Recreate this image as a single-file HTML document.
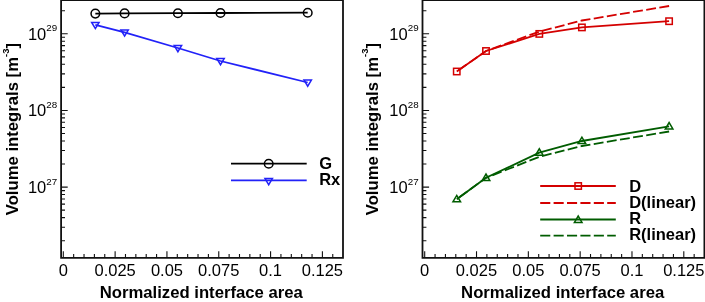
<!DOCTYPE html>
<html><head><meta charset="utf-8"><style>
html,body{margin:0;padding:0;background:#fff;width:705px;height:302px;overflow:hidden}
svg{display:block;will-change:transform}
text{font-family:"Liberation Sans", sans-serif;fill:#000}
</style></head><body>
<svg width="705" height="302" viewBox="0 0 705 302">
<path d="M61.1 0.2 H343.0 V257.8 H61.1 Z" fill="none" stroke="#111" stroke-width="1.8"/>
<path d="M63.30 257.8 V251.20 M73.66 257.8 V253.90 M84.03 257.8 V253.90 M94.39 257.8 V253.90 M104.76 257.8 V253.90 M115.12 257.8 V251.20 M125.48 257.8 V253.90 M135.85 257.8 V253.90 M146.21 257.8 V253.90 M156.58 257.8 V253.90 M166.94 257.8 V251.20 M177.30 257.8 V253.90 M187.67 257.8 V253.90 M198.03 257.8 V253.90 M208.40 257.8 V253.90 M218.76 257.8 V251.20 M229.12 257.8 V253.90 M239.49 257.8 V253.90 M249.85 257.8 V253.90 M260.22 257.8 V253.90 M270.58 257.8 V251.20 M280.94 257.8 V253.90 M291.31 257.8 V253.90 M301.67 257.8 V253.90 M312.04 257.8 V253.90 M322.40 257.8 V251.20 M332.76 257.8 V253.90" stroke="#111" stroke-width="1.1" fill="none"/>
<text x="63.30" y="276.4" text-anchor="middle" font-size="16.5">0</text>
<text x="115.12" y="276.4" text-anchor="middle" font-size="16.5">0.025</text>
<text x="166.94" y="276.4" text-anchor="middle" font-size="16.5">0.05</text>
<text x="218.76" y="276.4" text-anchor="middle" font-size="16.5">0.075</text>
<text x="270.58" y="276.4" text-anchor="middle" font-size="16.5">0.1</text>
<text x="322.40" y="276.4" text-anchor="middle" font-size="16.5">0.125</text>
<path d="M61.1 33.80 H67.70 M61.1 10.73 H65.00 M61.1 110.45 H67.70 M61.1 87.38 H65.00 M61.1 73.88 H65.00 M61.1 64.30 H65.00 M61.1 56.87 H65.00 M61.1 50.80 H65.00 M61.1 45.67 H65.00 M61.1 41.23 H65.00 M61.1 37.31 H65.00 M61.1 187.10 H67.70 M61.1 164.03 H65.00 M61.1 150.53 H65.00 M61.1 140.95 H65.00 M61.1 133.52 H65.00 M61.1 127.45 H65.00 M61.1 122.32 H65.00 M61.1 117.88 H65.00 M61.1 113.96 H65.00 M61.1 240.68 H65.00 M61.1 227.18 H65.00 M61.1 217.60 H65.00 M61.1 210.17 H65.00 M61.1 204.10 H65.00 M61.1 198.97 H65.00 M61.1 194.53 H65.00 M61.1 190.61 H65.00" stroke="#111" stroke-width="1.1" fill="none"/>
<text x="46.30" y="39.60" text-anchor="end" font-size="16.5">10</text>
<text x="46.30" y="31.20" font-size="9.8">29</text>
<text x="46.30" y="116.30" text-anchor="end" font-size="16.5">10</text>
<text x="46.30" y="107.90" font-size="9.8">28</text>
<text x="46.30" y="192.90" text-anchor="end" font-size="16.5">10</text>
<text x="46.30" y="184.50" font-size="9.8">27</text>
<text x="201.25" y="297.6" text-anchor="middle" font-size="16.7" font-weight="bold">Normalized interface area</text>
<text transform="translate(18.00 129.1) rotate(-90)" x="0" y="0" text-anchor="middle" font-size="16.7" font-weight="bold">Volume integrals [m<tspan dy="-9.3" font-size="9.5">-3</tspan><tspan dy="9.3">]</tspan></text>
<path d="M95.35 13.60 L124.60 13.40 L177.90 13.20 L220.50 13.00 L307.70 12.70" fill="none" stroke="#000" stroke-width="1.8"/>
<circle cx="95.35" cy="13.6" r="4.3" fill="none" stroke="#000" stroke-width="1.5"/>
<circle cx="124.6" cy="13.4" r="4.3" fill="none" stroke="#000" stroke-width="1.5"/>
<circle cx="177.9" cy="13.2" r="4.3" fill="none" stroke="#000" stroke-width="1.5"/>
<circle cx="220.5" cy="13.0" r="4.3" fill="none" stroke="#000" stroke-width="1.5"/>
<circle cx="307.7" cy="12.7" r="4.3" fill="none" stroke="#000" stroke-width="1.5"/>
<path d="M95.35 24.90 L124.60 32.40 L177.90 48.00 L220.50 61.00 L307.70 82.50" fill="none" stroke="#2222f8" stroke-width="1.8"/>
<path d="M91.65 22.50 H99.05 L95.35 28.60 Z" fill="none" stroke="#2222f8" stroke-width="1.5"/>
<path d="M120.90 30.00 H128.30 L124.60 36.10 Z" fill="none" stroke="#2222f8" stroke-width="1.5"/>
<path d="M174.20 45.60 H181.60 L177.90 51.70 Z" fill="none" stroke="#2222f8" stroke-width="1.5"/>
<path d="M216.80 58.60 H224.20 L220.50 64.70 Z" fill="none" stroke="#2222f8" stroke-width="1.5"/>
<path d="M304.00 80.10 H311.40 L307.70 86.20 Z" fill="none" stroke="#2222f8" stroke-width="1.5"/>
<path d="M231 163.7 H306.7" stroke="#000" stroke-width="1.8"/>
<circle cx="268.7" cy="163.7" r="4.3" fill="none" stroke="#000" stroke-width="1.5"/>
<path d="M231 180.4 H306.7" stroke="#2222f8" stroke-width="1.8"/>
<path d="M265.00 178.60 H272.40 L268.70 184.70 Z" fill="none" stroke="#2222f8" stroke-width="1.5"/>
<text x="319.2" y="169.1" font-size="16.5" font-weight="bold">G</text>
<text x="319.2" y="185.2" font-size="16.5" font-weight="bold">Rx</text>
<path d="M422.5 0.2 H704.4 V257.8 H422.5 Z" fill="none" stroke="#111" stroke-width="1.8"/>
<path d="M424.70 257.8 V251.20 M435.06 257.8 V253.90 M445.43 257.8 V253.90 M455.79 257.8 V253.90 M466.16 257.8 V253.90 M476.52 257.8 V251.20 M486.88 257.8 V253.90 M497.25 257.8 V253.90 M507.61 257.8 V253.90 M517.98 257.8 V253.90 M528.34 257.8 V251.20 M538.70 257.8 V253.90 M549.07 257.8 V253.90 M559.43 257.8 V253.90 M569.80 257.8 V253.90 M580.16 257.8 V251.20 M590.52 257.8 V253.90 M600.89 257.8 V253.90 M611.25 257.8 V253.90 M621.62 257.8 V253.90 M631.98 257.8 V251.20 M642.34 257.8 V253.90 M652.71 257.8 V253.90 M663.07 257.8 V253.90 M673.44 257.8 V253.90 M683.80 257.8 V251.20 M694.16 257.8 V253.90" stroke="#111" stroke-width="1.1" fill="none"/>
<text x="424.70" y="276.4" text-anchor="middle" font-size="16.5">0</text>
<text x="476.52" y="276.4" text-anchor="middle" font-size="16.5">0.025</text>
<text x="528.34" y="276.4" text-anchor="middle" font-size="16.5">0.05</text>
<text x="580.16" y="276.4" text-anchor="middle" font-size="16.5">0.075</text>
<text x="631.98" y="276.4" text-anchor="middle" font-size="16.5">0.1</text>
<text x="683.80" y="276.4" text-anchor="middle" font-size="16.5">0.125</text>
<path d="M422.5 33.80 H429.10 M422.5 10.73 H426.40 M422.5 110.45 H429.10 M422.5 87.38 H426.40 M422.5 73.88 H426.40 M422.5 64.30 H426.40 M422.5 56.87 H426.40 M422.5 50.80 H426.40 M422.5 45.67 H426.40 M422.5 41.23 H426.40 M422.5 37.31 H426.40 M422.5 187.10 H429.10 M422.5 164.03 H426.40 M422.5 150.53 H426.40 M422.5 140.95 H426.40 M422.5 133.52 H426.40 M422.5 127.45 H426.40 M422.5 122.32 H426.40 M422.5 117.88 H426.40 M422.5 113.96 H426.40 M422.5 240.68 H426.40 M422.5 227.18 H426.40 M422.5 217.60 H426.40 M422.5 210.17 H426.40 M422.5 204.10 H426.40 M422.5 198.97 H426.40 M422.5 194.53 H426.40 M422.5 190.61 H426.40" stroke="#111" stroke-width="1.1" fill="none"/>
<text x="407.70" y="39.60" text-anchor="end" font-size="16.5">10</text>
<text x="407.70" y="31.20" font-size="9.8">29</text>
<text x="407.70" y="116.30" text-anchor="end" font-size="16.5">10</text>
<text x="407.70" y="107.90" font-size="9.8">28</text>
<text x="407.70" y="192.90" text-anchor="end" font-size="16.5">10</text>
<text x="407.70" y="184.50" font-size="9.8">27</text>
<text x="562.65" y="297.6" text-anchor="middle" font-size="16.7" font-weight="bold">Normalized interface area</text>
<text transform="translate(377.60 129.1) rotate(-90)" x="0" y="0" text-anchor="middle" font-size="16.7" font-weight="bold">Volume integrals [m<tspan dy="-9.3" font-size="9.5">-3</tspan><tspan dy="9.3">]</tspan></text>
<path d="M669.10 6.00 L581.90 20.50 L539.30 31.60 L486.00 51.00 L456.75 71.50" fill="none" stroke="#d40000" stroke-width="1.8" stroke-dasharray="9.9 3.4" stroke-dashoffset="0"/>
<path d="M456.75 71.50 L486.00 51.00 L539.30 33.90 L581.90 27.40 L669.10 21.20" fill="none" stroke="#d40000" stroke-width="1.8"/>
<rect x="453.55" y="68.30" width="6.4" height="6.4" fill="none" stroke="#d40000" stroke-width="1.5"/>
<rect x="482.80" y="47.80" width="6.4" height="6.4" fill="none" stroke="#d40000" stroke-width="1.5"/>
<rect x="536.10" y="30.70" width="6.4" height="6.4" fill="none" stroke="#d40000" stroke-width="1.5"/>
<rect x="578.70" y="24.20" width="6.4" height="6.4" fill="none" stroke="#d40000" stroke-width="1.5"/>
<rect x="665.90" y="18.00" width="6.4" height="6.4" fill="none" stroke="#d40000" stroke-width="1.5"/>
<path d="M669.10 131.50 L581.90 146.00 L539.30 156.80 L486.00 177.80 L456.75 199.20" fill="none" stroke="#005c00" stroke-width="1.8" stroke-dasharray="9.9 3.4" stroke-dashoffset="0"/>
<path d="M456.75 199.20 L486.00 177.80 L539.30 152.60 L581.90 141.00 L669.10 126.30" fill="none" stroke="#005c00" stroke-width="1.8"/>
<path d="M452.95 201.80 H460.55 L456.75 195.40 Z" fill="none" stroke="#005c00" stroke-width="1.5"/>
<path d="M482.20 180.40 H489.80 L486.00 174.00 Z" fill="none" stroke="#005c00" stroke-width="1.5"/>
<path d="M535.50 155.20 H543.10 L539.30 148.80 Z" fill="none" stroke="#005c00" stroke-width="1.5"/>
<path d="M578.10 143.60 H585.70 L581.90 137.20 Z" fill="none" stroke="#005c00" stroke-width="1.5"/>
<path d="M665.30 128.90 H672.90 L669.10 122.50 Z" fill="none" stroke="#005c00" stroke-width="1.5"/>
<path d="M540.2 186 H615.8" stroke="#d40000" stroke-width="1.8"/>
<rect x="575.00" y="182.80" width="6.4" height="6.4" fill="none" stroke="#d40000" stroke-width="1.5"/>
<path d="M540.2 203 H615.8" stroke="#d40000" stroke-width="1.8" stroke-dasharray="10.1 3.3"/>
<path d="M540.2 219.5 H615.8" stroke="#005c00" stroke-width="1.8"/>
<path d="M574.40 222.40 H582.00 L578.20 216.00 Z" fill="none" stroke="#005c00" stroke-width="1.5"/>
<path d="M540.2 235.7 H615.8" stroke="#005c00" stroke-width="1.8" stroke-dasharray="10.1 3.3"/>
<text x="629.2" y="191.9" font-size="16.5" font-weight="bold">D</text>
<text x="629.2" y="207.6" font-size="16.5" font-weight="bold">D(linear)</text>
<text x="629.2" y="223.7" font-size="16.5" font-weight="bold">R</text>
<text x="629.2" y="239.6" font-size="16.5" font-weight="bold">R(linear)</text>
</svg></body></html>
